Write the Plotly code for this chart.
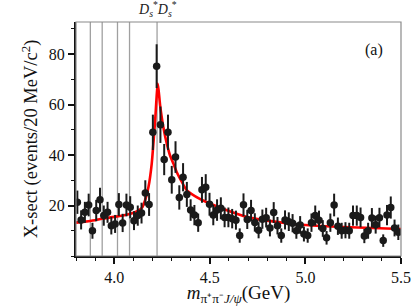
import numpy as np
import plotly.graph_objects as go

# ---- data ----
mass_first, mass_last = 3.807, 5.486
counts = [21.3, 14.3, 17.3, 20.2, 10.0, 18.0, 22.3, 16.0, 17.3, 12.0, 12.7,
          20.4, 13.1, 20.2, 19.3, 14.0, 16.0, 17.0, 25.0, 20.4, 49.0, 75.2,
          52.0, 38.2, 49.0, 30.2, 39.2, 23.2, 31.2, 24.4, 18.2, 16.2, 13.2,
          26.2, 27.2, 20.5, 16.2, 18.2, 18.9, 15.3, 15.3, 14.8, 14.2, 8.1,
          20.3, 14.5, 18.0, 13.3, 10.2, 14.6, 15.2, 11.1, 17.2, 12.0, 8.1,
          14.3, 13.6, 13.0, 10.0, 12.3, 8.7, 8.1, 13.2, 16.0, 14.2, 10.9,
          7.2, 13.2, 20.2, 11.8, 10.0, 10.2, 10.0, 16.0, 16.0, 15.3, 7.9,
          10.0, 15.1, 12.4, 15.2, 6.1, 16.2, 19.2, 11.1, 9.4]
mass = np.linspace(mass_first, mass_last, len(counts))
errors = np.sqrt(counts)

fit_x = [3.80, 3.90, 3.98, 4.065, 4.118, 4.144, 4.161, 4.179, 4.196, 4.214,
         4.228, 4.24, 4.257, 4.275, 4.292, 4.31, 4.327, 4.345, 4.38, 4.45,
         4.50, 4.60, 4.70, 4.80, 4.90, 5.00, 5.20, 5.50]
fit_y = [13.2, 14.2, 15.3, 16.3, 17.7, 19.0, 22.0, 27.3, 36.5, 53.8,
         68.3, 59.7, 51.0, 44.5, 39.8, 36.5, 33.2, 30.6, 26.0, 22.5,
         20.8, 17.8, 15.3, 14.0, 13.0, 12.3, 11.5, 10.7]

thresholds = [3.875, 3.937, 4.017, 4.080, 4.224]
x_ticks = [4.0, 4.5, 5.0, 5.5]
x_ticklabels = ["4.0", "4.5", "5.0", "5.5"]
y_ticks = [20, 40, 60, 80]

serif = "Liberation Serif"

fig = go.Figure()

for t in thresholds:
    fig.add_shape(type="line", x0=t, x1=t, y0=0, y1=1, xref="x", yref="paper",
                  line=dict(color="#a0a0a0", width=1.3), layer="below")

fig.add_trace(go.Scatter(
    x=fit_x, y=fit_y, mode="lines",
    line=dict(color="#ff0000", width=2.6, shape="spline", smoothing=0.6),
    hoverinfo="skip", showlegend=False))

fig.add_trace(go.Scatter(
    x=mass, y=counts, mode="markers",
    marker=dict(color="#1a1a1a", size=7.5),
    error_y=dict(type="data", array=errors, color="#1a1a1a", thickness=2, width=0),
    showlegend=False))

fig.add_shape(type="rect", x0=0, x1=1, y0=0, y1=1, xref="paper", yref="paper",
              line=dict(color="#8a8a8a", width=1.2), layer="above")

fig.add_annotation(x=thresholds[-1], y=1.0, xref="x", yref="paper", yanchor="bottom",
                   xanchor="center", yshift=1,
                   text="<i>D</i><sub><i>s</i></sub><sup>*</sup><i>D</i><sub><i>s</i></sub><sup>*</sup>",
                   showarrow=False, font=dict(family=serif, size=14, color="#222"))
fig.add_annotation(x=0.917, y=0.88, xref="paper", yref="paper", xanchor="center", yanchor="middle",
                   text="(a)", showarrow=False, font=dict(family=serif, size=16, color="#111"))

fig.update_layout(
    width=416, height=306,
    margin=dict(l=76, r=15, t=22, b=50),
    paper_bgcolor="white", plot_bgcolor="white",
    font=dict(family=serif, size=16, color="#111"),
    xaxis=dict(range=[3.8, 5.5], tickvals=x_ticks, ticktext=x_ticklabels, automargin=False,
               ticks="outside", ticklen=6, tickwidth=1.5, tickcolor="#111",
               tickfont=dict(size=16),
               minor=dict(dtick=0.1, ticks="outside", ticklen=3, tickcolor="#111", tickwidth=1),
               showline=True, linecolor="#111", linewidth=2, showgrid=False, zeroline=False,
               title=dict(text="<i>m</i><sub>π⁺π⁻<i>J/ψ</i></sub>(GeV)", font=dict(size=19), standoff=2)),
    yaxis=dict(range=[0, 92.7], tickvals=y_ticks, automargin=False,
               ticks="outside", ticklen=6, tickwidth=1.5, tickcolor="#111",
               tickfont=dict(size=16),
               minor=dict(dtick=10, ticks="outside", ticklen=3, tickcolor="#111", tickwidth=1),
               showline=True, linecolor="#111", linewidth=2, showgrid=False, zeroline=False,
               title=dict(text="X-sect (events/20 MeV/c<sup>2</sup>)", font=dict(size=18.5), standoff=6)),
)

fig.write_html("out.html", config={"displayModeBar": False},
               post_script="document.body.style.margin='0';document.body.style.padding='0';")
